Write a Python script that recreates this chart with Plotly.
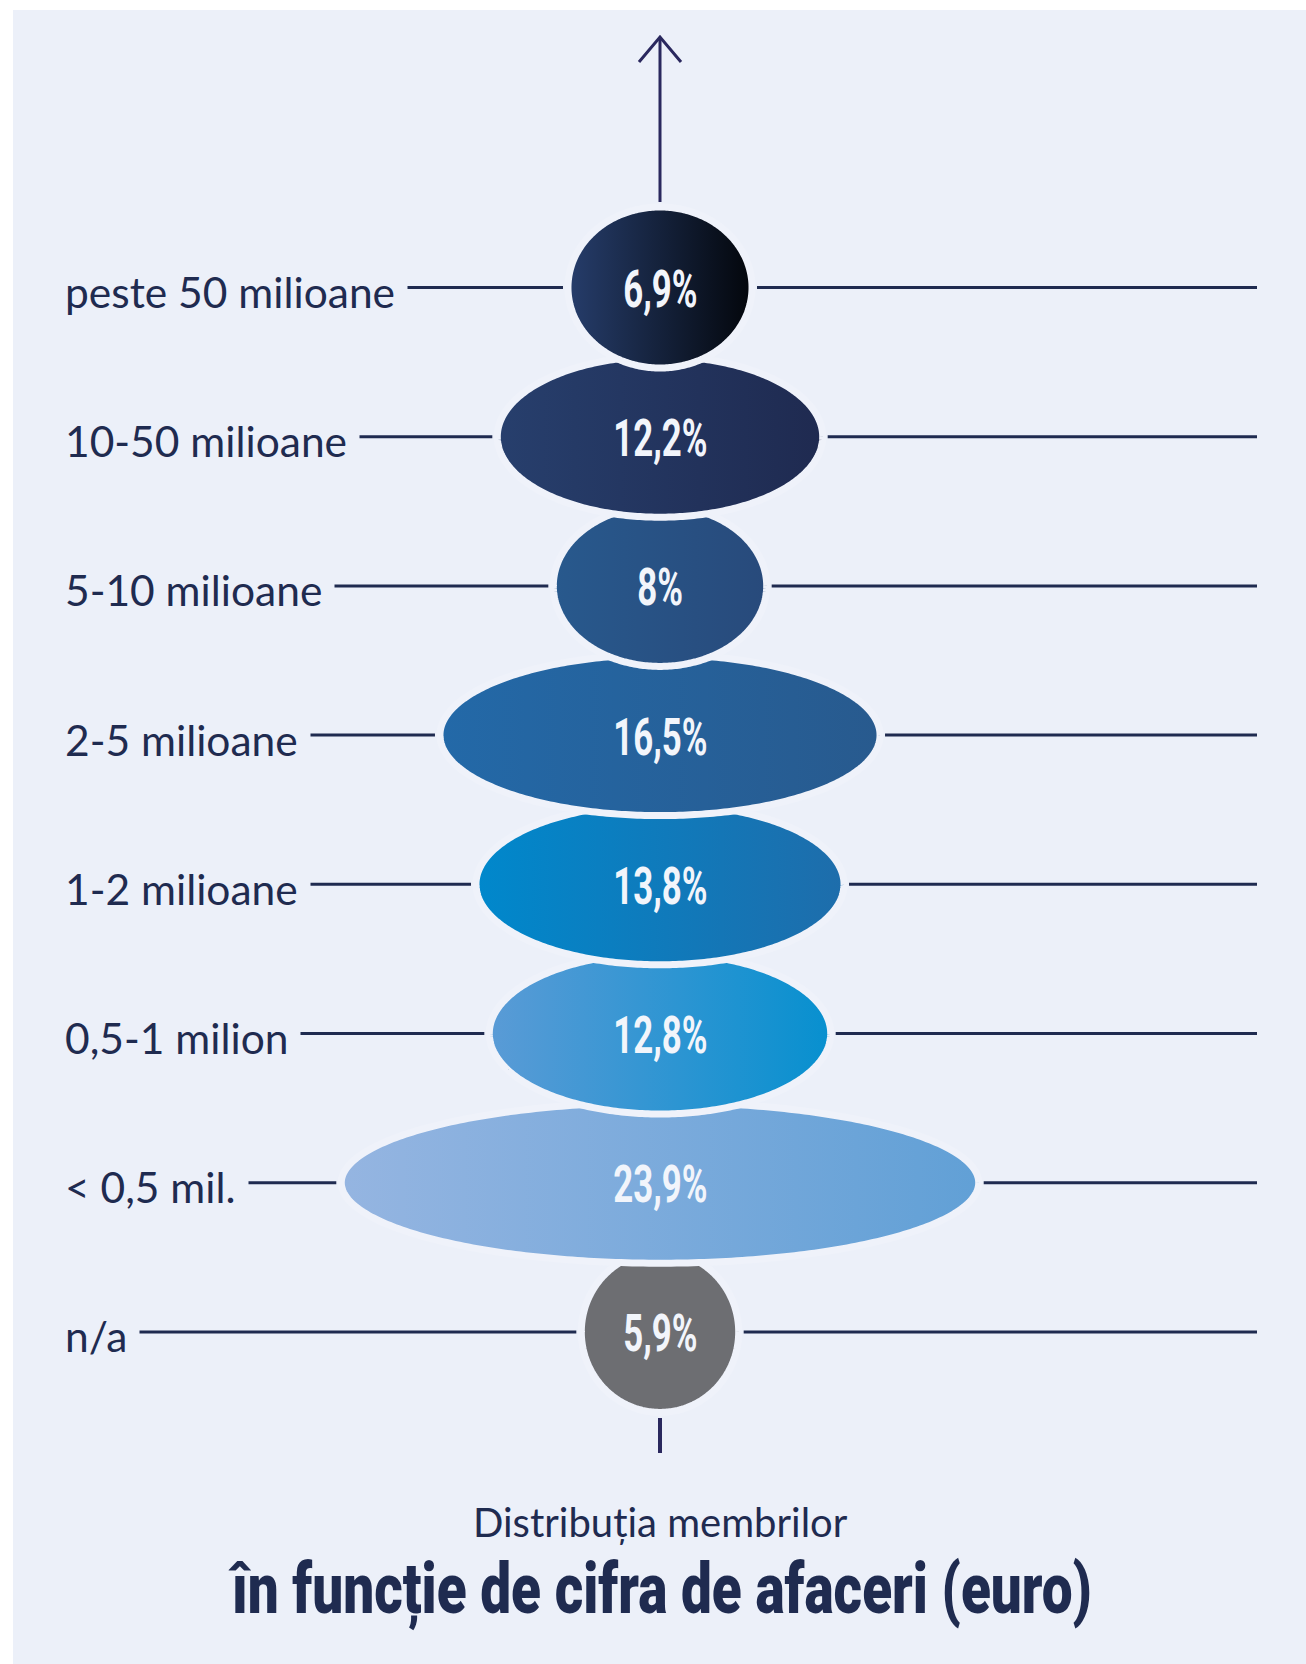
import json
import numpy as np
import plotly.graph_objects as go

# ---------------- data ----------------
categories = ["peste 50 milioane", "10-50 milioane", "5-10 milioane", "2-5 milioane",
              "1-2 milioane", "0,5-1 milion", "< 0,5 mil.", "n/a"]
values = [6.9, 12.2, 8.0, 16.5, 13.8, 12.8, 23.9, 5.9]
value_labels = ["6,9%", "12,2%", "8%", "16,5%", "13,8%", "12,8%", "23,9%", "5,9%"]
colors_left = ["#263d6b", "#273f6d", "#28598d", "#2369a8", "#0088cc", "#5a9bd6", "#95b5e1", "#6d6e72"]
colors_right = ["#03060b", "#1f2a50", "#284a7b", "#285a8e", "#1e6dab", "#0790cf", "#61a0d6", "#6d6e72"]
subtitle = "Distribuția membrilor"
title = "în funcție de cifra de afaceri (euro)"

# ---------------- geometry / style ----------------
W, H = 1306, 1664
PX = 26.67            # pixels per percentage point of ellipse width
CX = 660              # pixel x of the central axis
ROW0 = 287.5          # pixel y of first row
STEP = 149.2          # pixels between rows
HALF_H = 80.5 / STEP  # ellipse half height in row units
BG = "#ECF0F9"
GAP_COLOR = "#EFF2FA"
NAVY = "#1F2B50"
ARROW = "#2A285E"
LABEL_FONT = "Lato, 'Open Sans', sans-serif"
COND_FONT = "Roboto, 'Liberation Sans', sans-serif"

x_range = [-CX / PX, (W - CX) / PX]
y_range = [(H - ROW0) / STEP, -ROW0 / STEP]


def px_x(p):
    return (p - CX) / PX


def px_y(p):
    return (p - ROW0) / STEP


fig = go.Figure()

# panel background
fig.add_shape(type="rect", xref="paper", yref="paper",
              x0=13 / W, x1=1, y0=0, y1=1 - 10 / H,
              fillcolor=BG, line_width=0, layer="below")

# horizontal guide lines
gap = 5 / PX
for i, v in enumerate(values):
    fig.add_shape(type="line", xref="x", yref="y", x0=px_x(60), x1=-v / 2 - gap,
                  y0=i, y1=i, line=dict(color=NAVY, width=3), layer="below")
    fig.add_shape(type="line", xref="x", yref="y", x0=v / 2 + gap, x1=px_x(1257),
                  y0=i, y1=i, line=dict(color=NAVY, width=3), layer="below")

# arrow on top
fig.add_shape(type="line", xref="x", yref="y", x0=0, x1=0,
              y0=px_y(202), y1=px_y(38), line=dict(color=ARROW, width=3))
fig.add_trace(go.Scatter(x=[-21 / PX, 0, 21 / PX], y=[px_y(62), px_y(37), px_y(62)],
                         mode="lines", line=dict(color=ARROW, width=3),
                         hoverinfo="skip", showlegend=False))
# bottom tick
fig.add_shape(type="line", xref="x", yref="y", x0=0, x1=0,
              y0=px_y(1418), y1=px_y(1453), line=dict(color=ARROW, width=4))

# ellipses (bottom first, so upper ones overlap with a light gap)
t = np.linspace(0, 2 * np.pi, 361)
for i in reversed(range(len(values))):
    v = values[i]
    xs = v / 2 * np.cos(t)
    ys = i + HALF_H * np.sin(t)
    fig.add_trace(go.Scatter(
        x=xs, y=ys, mode="lines", fill="toself",
        fillgradient=dict(type="horizontal",
                          colorscale=[[0, colors_left[i]], [1, colors_right[i]]]),
        line=dict(color=GAP_COLOR, width=7, simplify=False),
        hoverinfo="skip", showlegend=False))

annotations = []
squeeze = {}
for i, (cat, lab) in enumerate(zip(categories, value_labels)):
    squeeze[len(annotations)] = {"s": 0.67}
    annotations.append(dict(
        x=0, y=i, xref="x", yref="y", text=lab, showarrow=False,
        xanchor="center", yanchor="middle", yshift=-2,
        font=dict(family=COND_FONT, size=52, color="#F2F5FB", weight=700)))
    annotations.append(dict(
        x=(64 - 12) / W, y=i, xref="paper", yref="y", text=cat, showarrow=False,
        xanchor="left", yanchor="middle", yshift=-4, bgcolor=BG, borderpad=12,
        font=dict(family=LABEL_FONT, size=42.5, color=NAVY)))

annotations.append(dict(
    x=CX / W, y=1 - 1522 / H, xref="paper", yref="paper", text=subtitle,
    showarrow=False, xanchor="center", yanchor="middle",
    font=dict(family=LABEL_FONT, size=40, color=NAVY)))
squeeze[len(annotations)] = {"w": 864}
annotations.append(dict(
    x=CX / W, y=1 - 1589 / H, xref="paper", yref="paper", text=title,
    showarrow=False, xanchor="center", yanchor="middle",
    font=dict(family=COND_FONT, size=70, color=NAVY, weight=900)))

fig.update_layout(
    width=W, height=H,
    margin=dict(l=0, r=0, t=0, b=0),
    paper_bgcolor="white", plot_bgcolor="white",
    xaxis=dict(range=x_range, visible=False, fixedrange=True),
    yaxis=dict(range=y_range, visible=False, fixedrange=True),
    annotations=annotations,
    showlegend=False,
)

post = """
document.body.style.margin = '0';
var spec = SPEC;
function squeezeText() {
  document.querySelectorAll('g.annotation').forEach(function (g) {
    var k = g.getAttribute('data-index');
    if (!(k in spec)) return;
    var t = g.querySelector('text.annotation-text');
    if (!t) return;
    var s = spec[k].s;
    if (spec[k].w) { s = spec[k].w / t.getBBox().width; }
    t.style.transformBox = 'fill-box';
    t.style.transformOrigin = 'center';
    t.style.transform = 'scaleX(' + s + ')';
  });
}
if (document.fonts && document.fonts.ready) { document.fonts.ready.then(squeezeText); } else { squeezeText(); }
""".replace("SPEC", json.dumps({str(k): v for k, v in squeeze.items()}))

fig.write_html("out.html", config={"displayModeBar": False}, post_script=post)
